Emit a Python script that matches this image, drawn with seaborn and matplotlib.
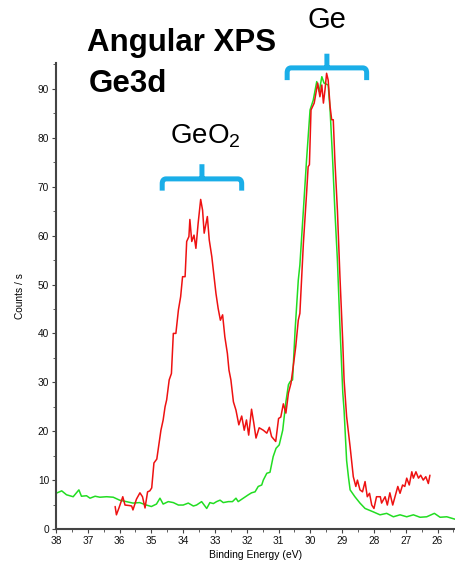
import numpy as np
import pandas as pd
import matplotlib
matplotlib.use("Agg")
import matplotlib.pyplot as plt
import seaborn as sns
from matplotlib.path import Path
from matplotlib.patches import PathPatch
from matplotlib.ticker import MultipleLocator

# ---- data ----
red_energy = [36.14, 36.10, 36.02, 35.90, 35.83, 35.70, 35.62, 35.58, 35.47, 35.36,
              35.28, 35.20, 35.12, 35.05, 34.99, 34.92, 34.83, 34.73, 34.70, 34.63,
              34.57, 34.52, 34.44, 34.37, 34.31, 34.23, 34.15, 34.08, 34.02, 33.94,
              33.89, 33.82, 33.79, 33.73, 33.66, 33.60, 33.53, 33.45, 33.39, 33.34,
              33.24, 33.18, 33.10, 33.03, 32.97, 32.90, 32.83, 32.76, 32.69, 32.61,
              32.56, 32.50, 32.42, 32.34, 32.25, 32.16, 32.08, 32.01, 31.94, 31.85,
              31.78, 31.71, 31.61, 31.48, 31.37, 31.29, 31.22, 31.09, 31.00, 30.93,
              30.85, 30.77, 30.69, 30.61, 30.54, 30.46, 30.38, 30.33, 30.22, 30.12,
              30.07, 30.03, 29.98, 29.88, 29.77, 29.70, 29.64, 29.59, 29.54, 29.49,
              29.44, 29.38, 29.33, 29.28, 29.23, 29.15, 29.07, 28.98, 28.94, 28.86,
              28.75, 28.65, 28.57, 28.52, 28.44, 28.36, 28.28, 28.21, 28.14, 28.07,
              28.00, 27.92, 27.80, 27.76, 27.65, 27.58, 27.50, 27.41, 27.34, 27.25,
              27.18, 27.10, 27.03, 26.97, 26.89, 26.81, 26.76, 26.68, 26.60, 26.53,
              26.45, 26.37, 26.29, 26.24]
red_counts = [4.6, 2.9, 4.3, 6.6, 4.9, 4.8, 4.7, 3.9, 6.1, 7.4,
              6.6, 4.3, 7.6, 7.8, 8.4, 13.5, 14.3, 18.9, 20.2, 22.3,
              25.0, 26.4, 30.5, 31.8, 40.0, 40.0, 44.8, 47.5, 51.6, 51.6,
              58.8, 59.8, 63.3, 58.8, 60.1, 57.4, 62.5, 67.4, 65.2, 60.5,
              63.9, 59.1, 55.7, 51.6, 48.2, 45.1, 42.7, 43.8, 39.3, 35.9,
              32.5, 30.5, 26.0, 24.3, 21.3, 23.1, 20.2, 22.3, 19.2, 24.5,
              21.7, 18.6, 20.7, 20.2, 19.6, 20.8, 18.9, 17.9, 22.6, 22.9,
              25.6, 23.7, 27.8, 29.8, 33.2, 37.3, 42.7, 44.1, 58.4, 68.6,
              74.1, 74.5, 85.7, 87.1, 91.2, 88.4, 90.8, 87.1, 89.8, 93.2,
              91.8, 86.4, 83.7, 83.7, 75.5, 65.2, 51.6, 38.0, 30.5, 23.0,
              16.8, 10.7, 8.7, 10.0, 8.0, 7.6, 9.7, 6.6, 7.3, 4.9,
              4.2, 6.6, 6.6, 5.3, 6.6, 4.9, 7.4, 4.9, 6.6, 8.7,
              7.3, 9.0, 8.7, 10.4, 9.0, 11.7, 10.4, 11.7, 10.4, 11.0,
              10.0, 10.7, 9.3, 11.0]

green_energy = [38.00, 37.82, 37.67, 37.46, 37.28, 37.20, 37.04, 36.93, 36.77, 36.62,
                36.41, 36.20, 36.00, 35.79, 35.58, 35.37, 35.16, 35.00, 34.84, 34.73,
                34.63, 34.47, 34.31, 34.15, 34.00, 33.84, 33.68, 33.58, 33.42, 33.26,
                33.16, 33.05, 32.95, 32.84, 32.74, 32.58, 32.45, 32.34, 32.27, 32.11,
                31.95, 31.85, 31.74, 31.64, 31.53, 31.48, 31.37, 31.27, 31.17, 31.08,
                30.98, 30.87, 30.77, 30.69, 30.64, 30.56, 30.48, 30.38, 30.33, 30.22,
                30.12, 30.01, 29.91, 29.80, 29.72, 29.64, 29.57, 29.44, 29.38, 29.30,
                29.23, 29.15, 29.07, 28.98, 28.94, 28.86, 28.80, 28.75, 28.60, 28.44,
                28.28, 28.02, 27.81, 27.60, 27.39, 27.18, 26.97, 26.76, 26.55, 26.34,
                26.10, 25.92, 25.71, 25.45]
green_counts = [7.3, 7.8, 7.0, 6.6, 8.0, 6.7, 6.8, 6.3, 6.7, 6.5,
                6.6, 6.5, 5.9, 5.6, 5.3, 5.4, 4.9, 4.6, 5.1, 6.3,
                5.1, 5.6, 5.4, 4.9, 4.9, 5.3, 4.7, 4.9, 5.6, 4.2,
                5.4, 5.2, 5.6, 5.9, 5.4, 5.6, 5.6, 6.3, 5.6, 6.3,
                7.0, 7.4, 7.6, 8.7, 9.0, 10.0, 11.4, 11.6, 14.8, 16.5,
                17.2, 20.2, 26.0, 29.5, 30.1, 30.5, 40.7, 50.9, 54.0, 65.2,
                75.5, 85.7, 87.7, 91.5, 89.5, 92.5, 91.2, 90.8, 85.7, 75.5,
                65.2, 55.0, 41.4, 27.8, 24.3, 14.0, 10.5, 8.0, 6.6, 5.3,
                4.2, 3.5, 2.9, 3.2, 2.5, 2.9, 2.5, 2.9, 2.4, 2.5,
                3.2, 2.4, 2.5, 2.0]

x_ticks = list(range(38, 25, -1))
y_ticks = list(range(0, 91, 10))

# ---- styling ----
sns.set_style("white")
plt.rcParams['font.family'] = ['Liberation Sans', 'DejaVu Sans']
plt.rcParams['text.color'] = 'black'
plt.rcParams['axes.labelcolor'] = 'black'
plt.rcParams['mathtext.fontset'] = 'custom'
plt.rcParams['mathtext.rm'] = 'Liberation Sans'
plt.rcParams['mathtext.default'] = 'regular'

fig = plt.figure(figsize=(4.56, 5.61), dpi=100)
ax = fig.add_axes([56/456, 1-529/561, 400/456, (529-63)/561])

df_red = pd.DataFrame({"energy": red_energy, "counts": red_counts})
df_green = pd.DataFrame({"energy": green_energy, "counts": green_counts})
sns.lineplot(data=df_green, x="energy", y="counts", sort=False, estimator=None,
             color="#22dd22", lw=1.1, ax=ax)
sns.lineplot(data=df_red, x="energy", y="counts", sort=False, estimator=None,
             color="#ee1111", lw=1.1, ax=ax)

ax.set_xlim(38, 25.42)
ax.set_ylim(0, 95.3)
ax.set_xticks(x_ticks)
ax.set_yticks(y_ticks)
ax.xaxis.set_minor_locator(MultipleLocator(0.5))
ax.yaxis.set_minor_locator(MultipleLocator(5))
for s in ["top", "right"]:
    ax.spines[s].set_visible(False)
for s in ["left", "bottom"]:
    ax.spines[s].set_color("#444444")
    ax.spines[s].set_linewidth(1.5)
ax.tick_params(axis="both", which="major", direction="out", length=3, width=0.8,
               color="#444444", labelsize=7.3, pad=2, labelcolor="#111111")
ax.tick_params(axis="both", which="minor", direction="out", length=2, width=0.6,
               color="#444444")
ax.tick_params(axis="x", which="both", bottom=True)
ax.tick_params(axis="y", which="both", left=True)
ax.set_xlabel("Binding Energy (eV)", fontsize=7.5, labelpad=3)
ax.set_ylabel("Counts / s", fontsize=7.3, labelpad=9)

# ---- annotations ----
fig.text(87/456, 1-51/561, "Angular XPS", fontsize=22.5, fontweight="bold",
         ha="left", va="baseline")
fig.text(89/456, 1-92/561, "Ge3d", fontsize=22.5, fontweight="bold",
         ha="left", va="baseline")
fig.text(170/456, 1-144/561, "GeO$_2$", fontsize=20, ha="left", va="baseline")
fig.text(308/456, 1-28/561, "Ge", fontsize=21, ha="left", va="baseline")

brace_color = "#1aaee8"


def brace(xc, half_w, y_bar, y_end, y_top, rx=0.12, ry=1.0):
    x0, x1 = xc + half_w, xc - half_w  # inverted axis: larger energy on the left
    verts = [(x0, y_end), (x0, y_bar - ry), (x0, y_bar), (x0 - rx, y_bar),
             (x1 + rx, y_bar), (x1, y_bar), (x1, y_bar - ry), (x1, y_end),
             (xc, y_bar), (xc, y_top)]
    codes = [Path.MOVETO, Path.LINETO, Path.CURVE3, Path.CURVE3,
             Path.LINETO, Path.CURVE3, Path.CURVE3, Path.LINETO,
             Path.MOVETO, Path.LINETO]
    patch = PathPatch(Path(verts, codes), fill=False, edgecolor=brace_color,
                      lw=3.6, capstyle="butt", joinstyle="round", clip_on=False)
    ax.add_patch(patch)


brace(33.41, 1.25, 71.6, 69.2, 74.6)
brace(29.48, 1.25, 94.3, 91.8, 97.2)

fig.savefig("out.png", dpi=100)
